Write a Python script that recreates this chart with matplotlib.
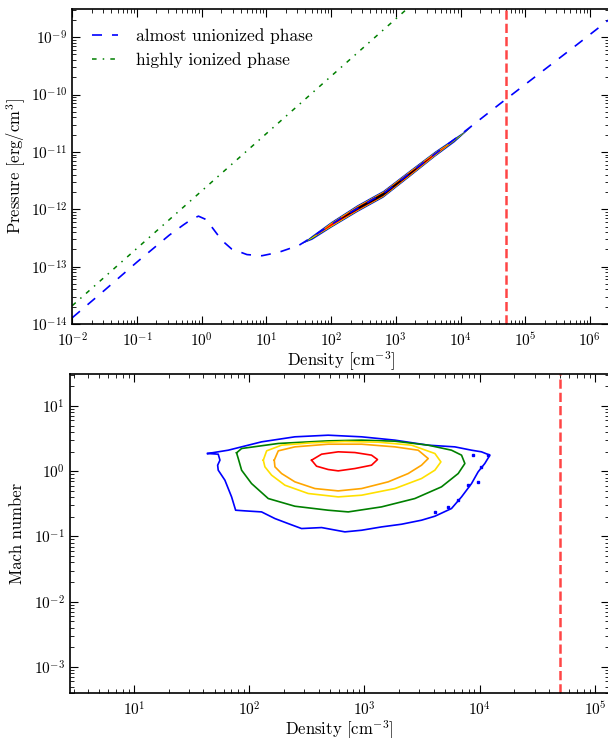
import numpy as np
import matplotlib
matplotlib.use("Agg")
import matplotlib.pyplot as plt

plt.rcParams.update({
    "font.family": "serif",
    "font.serif": ["cmr10"],
    "mathtext.fontset": "cm",
    "axes.unicode_minus": False,
    "axes.formatter.use_mathtext": True,
    "axes.linewidth": 1.2,
    "xtick.direction": "in",
    "ytick.direction": "in",
    "xtick.top": True,
    "ytick.right": True,
    "xtick.major.size": 6,
    "ytick.major.size": 6,
    "xtick.minor.size": 3,
    "ytick.minor.size": 3,
    "xtick.major.pad": 5,
    "xtick.labelsize": 11,
    "ytick.labelsize": 11,
})

# critical density (red dashed line)
n_crit = 5e4

# equilibrium curves, log10 n [cm^-3] / log10 P [erg/cm^3]
cold_logn = [-2.0, -1.5, -1.0, -0.5, -0.28, -0.15, -0.05, 0.05, 0.15, 0.31, 0.46,
             0.70, 0.93, 1.19, 1.50, 1.60, 2.20, 2.85, 3.40, 4.00, 4.60, 5.20, 5.80, 6.30]
cold_logp = [-13.89, -13.41, -12.92, -12.45, -12.27, -12.17, -12.12, -12.17, -12.30, -12.54, -12.69,
             -12.79, -12.81, -12.75, -12.63, -12.56, -12.12, -11.69, -11.21, -10.70, -10.17, -9.65, -9.13, -8.69]
hot_logn = [-2.0, 0.0, 1.0, 2.0, 3.2]
hot_logp = [-13.68, -11.68, -10.68, -9.68, -8.48]

# simulation cells in the n-P plane (narrow band along the curve)
band_logn = [1.55, 1.7, 2.0, 2.4, 2.8, 3.2, 3.6, 3.9, 4.17]
band_logp = [-12.59, -12.49, -12.26, -11.98, -11.73, -11.38, -11.03, -10.79, -10.55]
band_width = {
    "blue":    [0, 0.035, 0.05, 0.06, 0.06, 0.055, 0.045, 0.035, 0],
    "green":   [0, 0.018, 0.04, 0.048, 0.048, 0.044, 0.035, 0.018, 0],
    "#ffe000": [0, 0.008, 0.034, 0.043, 0.043, 0.039, 0.03, 0.008, 0],
    "orange":  [0, 0, 0.028, 0.038, 0.038, 0.034, 0.024, 0, 0],
    "red":     [0, 0, 0.018, 0.032, 0.033, 0.028, 0.015, 0, 0],
    "black":   [0, 0, 0, 0.02, 0.024, 0.016, 0, 0, 0],
}

# Mach number contours, log10 n / log10 M
blue_n = [1.639, 1.731, 1.746, 1.726, 1.731, 1.789, 1.847, 1.882, 1.963, 2.107, 2.223, 2.338,
          2.454, 2.628, 2.830, 2.975, 3.148, 3.321, 3.495, 3.611, 3.755, 3.842, 3.929, 3.986,
          4.044, 4.088, 4.015, 3.929, 3.784, 3.553, 3.264, 2.975, 2.685, 2.396, 2.107, 1.818]
blue_m = [0.271, 0.261, 0.169, 0.092, 0.016, -0.138, -0.394, -0.598, -0.608, -0.624, -0.726, -0.803,
          -0.879, -0.864, -0.930, -0.905, -0.854, -0.813, -0.751, -0.690, -0.572, -0.394, -0.189, -0.010,
          0.118, 0.246, 0.297, 0.322, 0.373, 0.399, 0.476, 0.527, 0.552, 0.527, 0.450, 0.322]
green_n = [1.890, 1.934, 2.252, 2.685, 2.975, 3.264, 3.553, 3.755, 3.842, 3.871, 3.813,
           3.668, 3.437, 3.148, 2.859, 2.685, 2.396, 2.165, 2.020, 1.934, 1.905]
green_m = [0.281, 0.348, 0.425, 0.465, 0.476, 0.460, 0.399, 0.322, 0.246, 0.118, -0.036,
           -0.240, -0.419, -0.547, -0.624, -0.598, -0.537, -0.419, -0.189, 0.015, 0.194]
yellow_n = [2.122, 2.151, 2.281, 2.541, 2.830, 3.119, 3.408, 3.611, 3.663, 3.611, 3.495,
            3.264, 2.975, 2.772, 2.512, 2.310, 2.194, 2.136]
yellow_m = [0.169, 0.312, 0.399, 0.435, 0.455, 0.445, 0.399, 0.271, 0.143, 0.016, -0.112,
            -0.266, -0.368, -0.394, -0.342, -0.215, -0.061, 0.067]
orange_n = [2.217, 2.252, 2.396, 2.685, 2.975, 3.264, 3.466, 3.553, 3.495, 3.379, 3.206,
            2.975, 2.772, 2.570, 2.396, 2.281, 2.223]
orange_m = [0.169, 0.312, 0.373, 0.414, 0.414, 0.373, 0.322, 0.194, 0.092, -0.036, -0.163,
            -0.266, -0.302, -0.266, -0.163, -0.036, 0.067]
red_n = [2.541, 2.628, 2.772, 2.917, 3.061, 3.113, 3.061, 2.917, 2.772, 2.685, 2.584]
red_m = [0.169, 0.261, 0.297, 0.286, 0.246, 0.179, 0.092, 0.041, 0.005, 0.026, 0.077]
specks_n = [3.900, 3.986, 4.015, 4.073, 3.943, 3.813, 3.726, 3.611]
specks_m = [-0.215, -0.163, 0.067, 0.246, 0.246, -0.445, -0.547, -0.624]

W, H = 608, 738
fig = plt.figure(figsize=(W / 100, H / 100), dpi=100)
ax1 = fig.add_axes([72.3 / W, 1 - 324 / H, (609.4 - 72.3) / W, (324 - 8.5) / H])
ax2 = fig.add_axes([69.6 / W, 1 - 693 / H, (609.4 - 69.6) / W, (693 - 374) / H])

# top panel: pressure vs density
bn = 10 ** np.array(band_logn)
bp = np.array(band_logp)
for col, w in band_width.items():
    w = np.array(w)
    ax1.fill_between(bn, 10 ** (bp - w), 10 ** (bp + w), color=col, lw=0)

ax1.plot(10 ** np.array(cold_logn), 10 ** np.array(cold_logp), color="blue", lw=1.2,
         dashes=(6, 6), label="almost unionized phase")
ax1.plot(10 ** np.array(hot_logn), 10 ** np.array(hot_logp), color="green", lw=1.1,
         dashes=(3, 4, 1, 4), label="highly ionized phase")
ax1.axvline(n_crit, color="#ff4545", lw=1.8, ls="--")
ax1.set_xscale("log")
ax1.set_yscale("log")
ax1.set_xlim(1e-2, 2e6)
ax1.set_ylim(1e-14, 10 ** -8.5)
ax1.set_xlabel(r"Density [cm$^{-3}$]", fontsize=12, labelpad=0)
ax1.set_ylabel(r"Pressure [erg/cm$^3$]", fontsize=12, labelpad=2)
ax1.legend(loc="upper left", frameon=False, fontsize=12.5, handlelength=1.5,
           handletextpad=1.0, borderaxespad=0.75, labelspacing=0.45)

# bottom panel: Mach number vs density
for xs, ys, col in [(blue_n, blue_m, "blue"), (green_n, green_m, "green"),
                    (yellow_n, yellow_m, "#ffe000"), (orange_n, orange_m, "orange"),
                    (red_n, red_m, "red")]:
    xs = list(xs) + [xs[0]]
    ys = list(ys) + [ys[0]]
    ax2.plot(10 ** np.array(xs), 10 ** np.array(ys), color=col, lw=1.2)
ax2.plot(10 ** np.array(specks_n), 10 ** np.array(specks_m), "s", color="blue", ms=1.5, lw=0)
ax2.axvline(n_crit, color="#ff4545", lw=1.8, ls="--")
ax2.set_xscale("log")
ax2.set_yscale("log")
ax2.set_xlim(10 ** 0.4415, 10 ** 5.125)
ax2.set_ylim(10 ** -3.40, 10 ** 1.49)
ax2.set_xlabel(r"Density [cm$^{-3}$]", fontsize=12, labelpad=0)
ax2.set_ylabel("Mach number", fontsize=12, labelpad=6)

fig.savefig("out.png", dpi=100)
